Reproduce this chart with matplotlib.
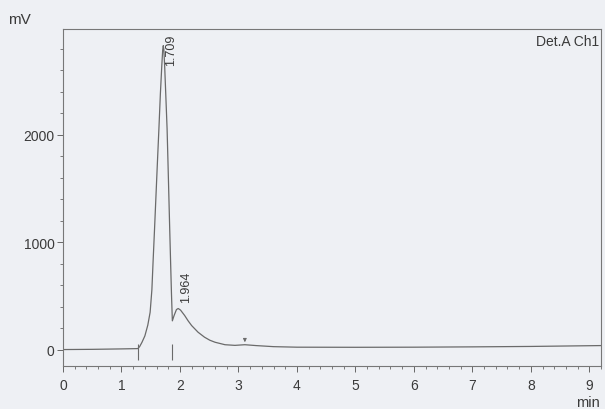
import matplotlib
matplotlib.use("Agg")
import matplotlib.pyplot as plt
from matplotlib.ticker import MultipleLocator
from matplotlib import font_manager

# ---- data ----
time_min = [0.00, 0.50, 1.00, 1.20, 1.28, 1.31, 1.35, 1.40, 1.45, 1.49,
            1.52, 1.54, 1.565, 1.59, 1.615, 1.64, 1.665, 1.69, 1.705, 1.715,
            1.725, 1.74, 1.76, 1.78, 1.795, 1.81, 1.825, 1.84, 1.855, 1.87,
            1.90, 1.94, 1.97, 2.01, 2.08, 2.14, 2.20, 2.31, 2.42, 2.51,
            2.60, 2.77, 2.94, 3.11, 3.30, 3.60, 4.00, 5.00, 6.00, 7.00,
            8.00, 9.20]
signal_mv = [3, 5, 9, 11, 12, 30, 70, 130, 230, 350,
             560, 816, 1120, 1435, 1750, 2056, 2380, 2650, 2790, 2830,
             2790, 2620, 2340, 2056, 1750, 1435, 1120, 816, 520, 270,
             320, 375, 385, 370, 320, 270, 226, 164, 118, 90,
             71, 48, 42, 48, 40, 30, 25, 24, 25, 28,
             32, 40]
peak_labels = ["1.709", "1.964"]
peak_label_x = [1.85, 2.10]
peak_label_y = [2650, 450]
marker_times = [1.28, 1.87]
end_marker_time = 3.11
x_ticks = [0, 1, 2, 3, 4, 5, 6, 7, 8, 9]
y_ticks = [0, 1000, 2000]

names = {f.name for f in font_manager.fontManager.ttflist}
fam = "Liberation Sans Narrow" if "Liberation Sans Narrow" in names else "Liberation Sans"
plt.rcParams["font.family"] = [fam, "DejaVu Sans"]

ink = "#3a3a3a"
bg = "#eef0f4"
fig = plt.figure(figsize=(6.05, 4.10), dpi=100, facecolor=bg)
ax = fig.add_axes([63 / 605, 43 / 410, 538 / 605, 337 / 410])
ax.set_facecolor(bg)

ax.plot(time_min, signal_mv, color="#6a6a6a", lw=0.9)

# peak start / valley markers
ax.vlines(marker_times, -95, 55, color="#6a6a6a", lw=0.8)
ax.annotate("", xy=(end_marker_time, 45), xytext=(end_marker_time, 125),
            arrowprops=dict(arrowstyle="-|>", color="#6a6a6a", lw=0.7,
                            mutation_scale=5))

for lab, xl, yl in zip(peak_labels, peak_label_x, peak_label_y):
    ax.text(xl, yl, lab, rotation=90, ha="center", va="bottom",
            fontsize=9, color=ink)

ax.set_xlim(0, 9.2)
ax.set_ylim(-150, 2985)
ax.set_xticks(x_ticks)
ax.set_yticks(y_ticks)
ax.xaxis.set_minor_locator(MultipleLocator(0.2))
ax.yaxis.set_minor_locator(MultipleLocator(200))
ax.tick_params(which="major", length=4, width=0.7, color="#666666",
               labelsize=10, labelcolor=ink, pad=2)
ax.tick_params(which="minor", length=2.5, width=0.6, color="#666666")
ax.tick_params(axis="x", pad=5)
for s in ax.spines.values():
    s.set_color("#777777")
    s.set_linewidth(0.8)

ax.text(0.997, 0.985, "Det.A Ch1", transform=ax.transAxes, ha="right",
        va="top", fontsize=10, color=ink)
fig.text(8 / 605, 1 - 20 / 410, "mV", ha="left", va="center", fontsize=11,
         color=ink)
fig.text(600 / 605, 1 - 403 / 410, "min", ha="right", va="center",
         fontsize=10.5, color=ink)

fig.savefig("out.png", dpi=100, facecolor=bg)
